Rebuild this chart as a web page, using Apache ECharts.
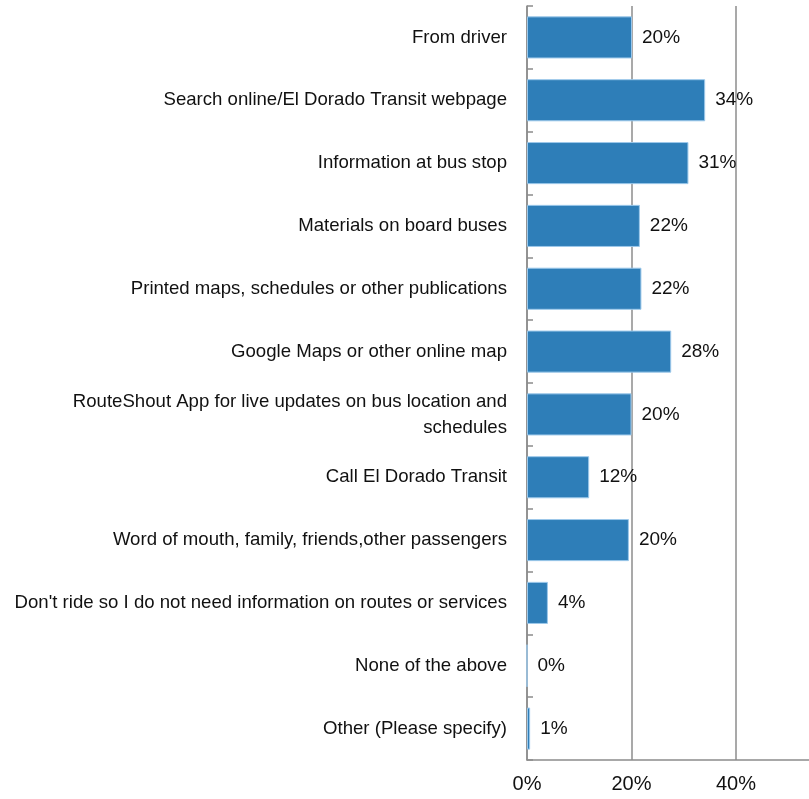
<!DOCTYPE html>
<html>
<head>
<meta charset="utf-8">
<script src="https://cdn.jsdelivr.net/npm/echarts@6/dist/echarts.min.js"></script>
<style>html,body{margin:0;padding:0;background:#fff}#c{width:809px;height:799px}</style>
</head>
<body>
<div id="c"></div>
<script>
const categories = [
  "From driver",
  "Search online/El Dorado Transit webpage",
  "Information at bus stop",
  "Materials on board buses",
  "Printed maps, schedules or other publications",
  "Google Maps or other online map",
  "RouteShout App for live updates on bus location and\nschedules",
  "Call El Dorado Transit",
  "Word of mouth, family, friends,other passengers",
  "Don't ride so I do not need information on routes or services",
  "None of the above",
  "Other (Please specify)"
];
const values = [20.1, 34.1, 30.9, 21.6, 21.9, 27.6, 20.0, 11.9, 19.5, 4.0, 0, 0.6];
const xTicks = [0, 20, 40, 60];

const font = "'Liberation Sans Narrow', 'Arial Narrow', 'Liberation Sans', Arial, sans-serif";
const chart = echarts.init(document.getElementById('c'), null, {renderer: 'canvas'});
chart.setOption({
  animation: false,
  backgroundColor: '#fff',
  grid: {left: 527, top: 6, width: 313.5, height: 754, containLabel: false, outerBoundsMode: 'none'},
  xAxis: {
    type: 'value', min: xTicks[0], max: xTicks[xTicks.length - 1], interval: 20,
    axisLine: {show: true, lineStyle: {color: '#8c8c8c', width: 1.5}},
    axisTick: {show: false},
    splitLine: {show: true, lineStyle: {color: '#8c8c8c', width: 1.5}},
    axisLabel: {formatter: v => v + '%', color: '#111', fontFamily: font, fontSize: 20, margin: 14}
  },
  yAxis: {
    type: 'category', data: categories, inverse: true,
    axisLine: {show: true, lineStyle: {color: '#8c8c8c', width: 1.5}},
    axisTick: {show: true, inside: true, length: 6, lineStyle: {color: '#8c8c8c', width: 1.5}},
    axisLabel: {color: '#111', fontFamily: font, fontSize: 18.6, margin: 20, lineHeight: 26, align: 'right'}
  },
  series: [{
    type: 'bar', data: values, barCategoryGap: '33%',
    itemStyle: {color: '#2e7eb8', borderColor: '#9cc8ea', borderWidth: 1},
    label: {show: true, position: 'right', distance: 10, color: '#111', fontFamily: font, fontSize: 19,
      formatter: p => Math.round(p.value) + '%'}
  }]
});
</script>
</body>
</html>
